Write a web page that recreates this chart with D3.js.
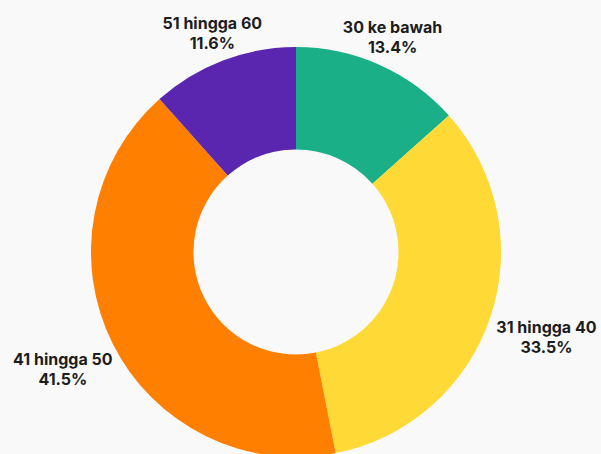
<!DOCTYPE html>
<html>
<head>
<meta charset="utf-8">
<script src="https://cdn.jsdelivr.net/npm/d3@7"></script>
<style>
  html, body { margin: 0; padding: 0; background: #f9f9f9; }
  svg { display: block; }
  .lbl { font-family: Inter, "Noto Sans", sans-serif; font-weight: 700; font-size: 16px; fill: #1d1d1d; }
</style>
</head>
<body>
<div id="chart"></div>
<script>
// Data
const categories = ['30 ke bawah', '31 hingga 40', '41 hingga 50', '51 hingga 60'];
const values = [13.4, 33.5, 41.5, 11.6];
const colors = ['#1aaf87', '#ffd935', '#ff7f00', '#5a25af'];

const width = 601, height = 454;
const cx = 296, cy = 252;
const outerR = 205, innerR = 102.5;

const svg = d3.select('#chart').append('svg')
    .attr('width', width)
    .attr('height', height);

const g = svg.append('g')
    .attr('transform', `translate(${cx},${cy})`);

const pie = d3.pie().sort(null).value(d => d.value);
const arcs = pie(categories.map((c, i) => ({ name: c, value: values[i], color: colors[i] })));

const arc = d3.arc().innerRadius(innerR).outerRadius(outerR);

g.selectAll('path.slice')
    .data(arcs)
    .enter()
    .append('path')
    .attr('class', 'slice')
    .attr('d', arc)
    .attr('fill', d => d.data.color);

// Labels outside, pushed further out on the sides
const labels = g.selectAll('text.lbl')
    .data(arcs)
    .enter()
    .append('text')
    .attr('class', 'lbl')
    .attr('text-anchor', 'middle')
    .attr('transform', d => {
        const a = (d.startAngle + d.endAngle) / 2;
        const s = Math.sin(a), c = Math.cos(a);
        const r = 230 + 38 * s * s;
        return `translate(${s * r},${-c * r})`;
    });

labels.append('tspan')
    .attr('x', 0)
    .attr('dy', '-0.2em')
    .text(d => d.data.name);

labels.append('tspan')
    .attr('x', 0)
    .attr('dy', '1.25em')
    .text(d => d.data.value.toFixed(1) + '%');
</script>
</body>
</html>
